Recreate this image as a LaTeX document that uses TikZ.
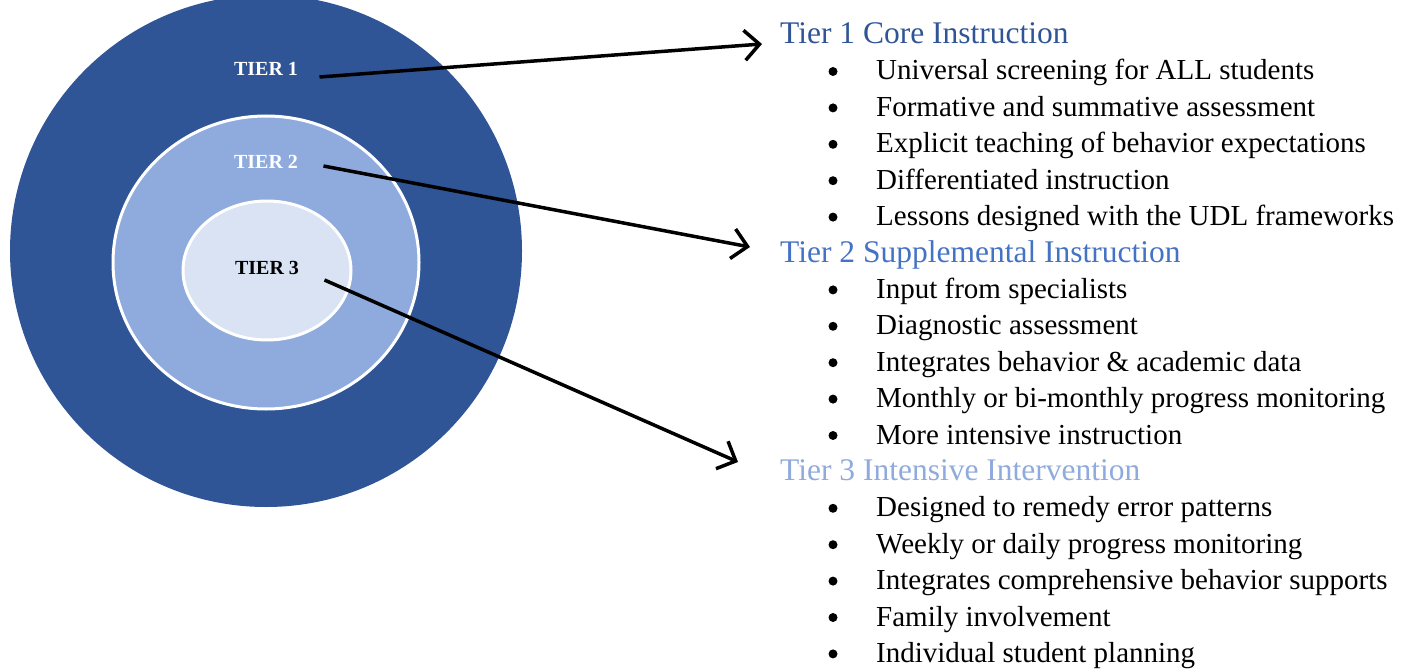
\documentclass[tikz,border=0pt]{standalone}
\usepackage{fontspec}
\setmainfont{Liberation Serif}
\usetikzlibrary{arrows.meta}
\definecolor{tierone}{HTML}{2F5597}
\definecolor{tiertwo}{HTML}{8FAADC}
\definecolor{tierthree}{HTML}{DAE3F3}
\definecolor{headtwo}{HTML}{4472C4}
\begin{document}
\begin{tikzpicture}[x=1pt,y=-1pt,
	lbl/.style={font=\fontsize{20}{24}\selectfont\bfseries},
	head/.style={anchor=base west,inner sep=0pt,font=\fontsize{31.5}{36}\selectfont},
	item/.style={anchor=base west,inner sep=0pt,font=\fontsize{29}{34}\selectfont},
	dot/.style={circle,fill,inner sep=0pt,minimum size=9pt},
	pointer/.style={-{Straight Barb[length=15pt,width=30pt,line width=3.5pt]},line width=3.5pt}]
\def	\cx	{266};
\def	\hx	{780};
\def	\bx	{833};
\def	\tx	{876};
\def	\ly	{43.6};
\def	\dy	{36.4};
\useasboundingbox (0,0) rectangle (1418,671);
% rings
\fill[tierone] (\cx,251) circle (256);
\filldraw[fill=tiertwo,draw=white,line width=3pt] (\cx,262.5) ellipse (153 and 146.5);
\filldraw[fill=tierthree,draw=white,line width=3pt] (267,270.5) ellipse (84 and 69.5);
\node[lbl,white] (t1) at (\cx,69) {TIER 1};
\node[lbl,white] (t2) at (\cx,162) {TIER 2};
\node[lbl] (t3) at (267,268) {TIER 3};
% headings
\node[head,text=tierone] (h1) at (\hx,\ly) {Tier 1 Core Instruction};
\node[head,text=headtwo] (h2) at (\hx,\ly+6*\dy) {Tier 2 Supplemental Instruction};
\node[head,text=tiertwo] (h3) at (\hx,\ly+12*\dy) {Tier 3 Intensive Intervention};
\foreach \txt [count=\i] in {Universal screening for ALL students,Formative and summative assessment,Explicit teaching of behavior expectations,Differentiated instruction,Lessons designed with the UDL frameworks}
	\node[item] (a\i) at (\tx,\ly+\i*\dy) {\txt};
\foreach \txt [count=\i] in {Input from specialists,Diagnostic assessment,Integrates behavior \& academic data,Monthly or bi-monthly progress monitoring,More intensive instruction}
	\node[item] (b\i) at (\tx,\ly+6*\dy+\i*\dy) {\txt};
\foreach \txt [count=\i] in {Designed to remedy error patterns,Weekly or daily progress monitoring,Integrates comprehensive behavior supports,Family involvement,Individual student planning}
	\node[item] (c\i) at (\tx,\ly+12*\dy+\i*\dy) {\txt};
\foreach \k in {1,...,5,7,8,...,11,13,14,...,17}
	\node[dot] (d\k) at (\bx,\ly+\k*\dy-8.5) {};
% pointers
\coordinate (e1) at (762,44);
\coordinate (e2) at (750,247);
\coordinate (e3) at (738,462);
\draw[pointer] (t1.east)++(18,8) -- (e1);
\draw[pointer] (t2.east)++(22,4) -- (e2);
\draw[pointer] (t3.east)++(22,12) -- (e3);
\end{tikzpicture}
\end{document}
